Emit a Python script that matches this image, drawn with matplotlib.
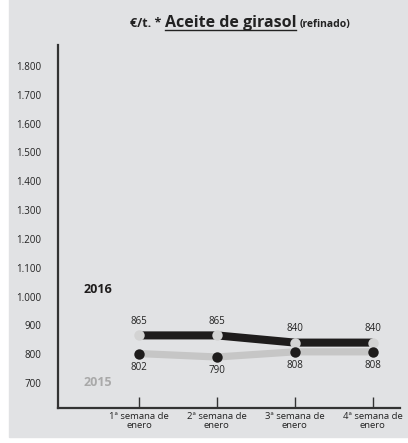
import matplotlib
matplotlib.use('Agg')
import matplotlib.pyplot as plt
from matplotlib.lines import Line2D
from matplotlib.patches import Rectangle

plt.rcParams['font.family'] = ['Open Sans', 'DejaVu Sans']

weeks = ['1ª semana de\nenero', '2ª semana de\nenero', '3ª semana de\nenero', '4ª semana de\nenero']
y2016 = [865, 865, 840, 840]
y2015 = [802, 790, 808, 808]
yticks = [700, 800, 900, 1000, 1100, 1200, 1300, 1400, 1500, 1600, 1700, 1800]
ytick_labels = ['700', '800', '900', '1.000', '1.100', '1.200', '1.300', '1.400',
                '1.500', '1.600', '1.700', '1.800']

fig = plt.figure(figsize=(4.08, 4.43), dpi=100)
fig.patches.append(Rectangle((9 / 408, 6 / 443), 1, 1, transform=fig.transFigure,
                             color='#e1e2e4', zorder=-5))

ax = fig.add_axes([58 / 408, 1 - 408 / 443, 342 / 408, 363 / 443])
ax.set_facecolor('none')
ax.set_zorder(1)
x = list(range(len(weeks)))

ax.plot(x, y2016, '-', color='#1e1c1c', lw=5.8, solid_capstyle='butt', zorder=3)
ax.plot(x, y2016, 'o', color='#d3d3d3', ms=7.5, mec='none', zorder=4)
ax.plot(x, y2015, '-', color='#c6c6c6', lw=5.2, solid_capstyle='butt', zorder=2)
ax.plot(x, y2015, 'o', color='#1e1c1c', ms=7.5, mec='none', zorder=4)

for xi, v in zip(x, y2016):
    ax.annotate(str(v), (xi, v), xytext=(0, 6), textcoords='offset points',
                ha='center', va='bottom', fontsize=7, color='#222222')
for xi, v in zip(x, y2015):
    ax.annotate(str(v), (xi, v), xytext=(0, -6), textcoords='offset points',
                ha='center', va='top', fontsize=7, color='#222222')

ax.text(-0.53, 1023, '2016', ha='center', va='center', fontsize=9,
        fontweight='bold', color='#1e1c1c')
ax.text(-0.53, 700, '2015', ha='center', va='center', fontsize=9,
        fontweight='bold', color='#a9a9a9')

ax.set_xlim(-1.04, 3.35)
ax.set_ylim(613, 1873)
ax.set_yticks(yticks)
ax.set_yticklabels(ytick_labels, fontsize=7, color='#222222')
ax.set_xticks(x)
ax.set_xticklabels(weeks, fontsize=6.8, color='#222222', linespacing=0.95)
ax.tick_params(axis='y', length=0, pad=12)
ax.tick_params(axis='x', direction='in', length=8, width=1.0, color='#333333', pad=3)
for s in ['top', 'right']:
    ax.spines[s].set_visible(False)
for s in ['left', 'bottom']:
    ax.spines[s].set_linewidth(1.6)
    ax.spines[s].set_color('#333333')

# title built from pieces
fig.canvas.draw()
r = fig.canvas.get_renderer()
ty = 1 - 27 / 443
t1 = fig.text(130 / 408, ty, '€/t. * ', fontsize=9, fontweight='bold', color='#222222',
              va='baseline')
b1 = t1.get_window_extent(r)
t2 = fig.text(b1.x1 / 408, ty, 'Aceite de girasol', fontsize=11.5, fontweight='bold',
              color='#222222', va='baseline')
b2 = t2.get_window_extent(r)
fig.lines.append(Line2D([b2.x0 / 408, b2.x1 / 408], [ty - 3 / 443, ty - 3 / 443],
                        transform=fig.transFigure, color='#222222', lw=1.0))
fig.text(b2.x1 / 408 + 3 / 408, ty, '(refinado)', fontsize=7.5, fontweight='bold',
         color='#222222', va='baseline')

fig.savefig('out.png', dpi=100)
